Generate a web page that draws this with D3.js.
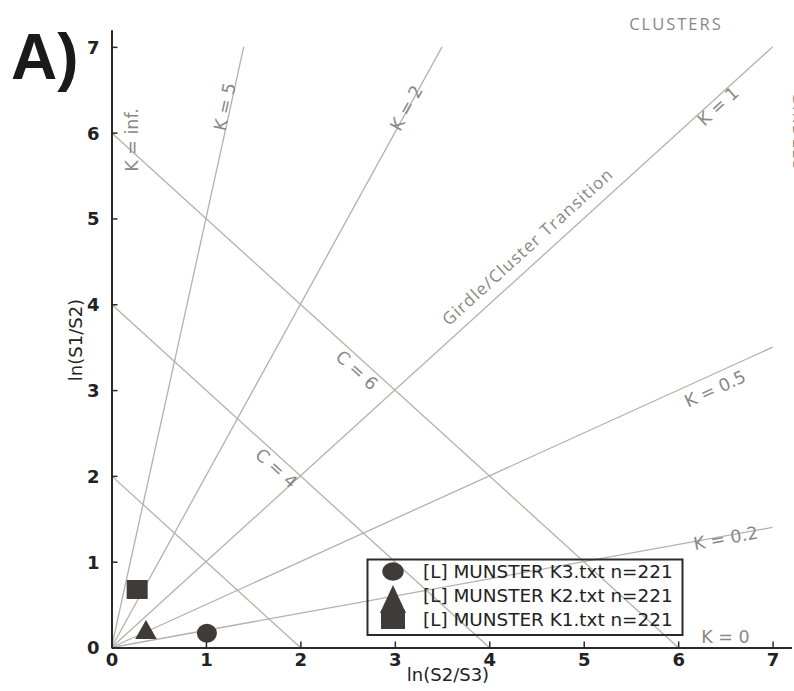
<!DOCTYPE html>
<html><head><meta charset="utf-8">
<script src="https://cdn.jsdelivr.net/npm/d3@7"></script>
<style>body{margin:0;background:#fff}svg{display:block}</style>
</head><body>
<script>
// ---- data ----
const xTicks = [0, 1, 2, 3, 4, 5, 6, 7];
const yTicks = [0, 1, 2, 3, 4, 5, 6, 7];
const kValues = [5, 2, 1, 0.5, 0.2];
const cValues = [2, 4, 6];
const seriesNames = ["[L] MUNSTER K3.txt n=221", "[L] MUNSTER K2.txt n=221", "[L] MUNSTER K1.txt n=221"];
const seriesShapes = ["circle", "triangle", "square"];
const seriesX = [1.01, 0.365, 0.272];
const seriesY = [0.165, 0.21, 0.676];
const xLabel = "ln(S2/S3)";
const yLabel = "ln(S1/S2)";

const W = 794, H = 691;
const svg = d3.select("body").append("svg").attr("width", W).attr("height", H);
const x = d3.scaleLinear().domain([0, 7.2]).range([111.5, 791.5]);
const y = d3.scaleLinear().domain([0, 7.2]).range([647.5, 29.7]);

const gridColor = "#b4b0ac", annColor = "#8a8784", ink = "#2a2a2a", markColor = "#3f3b38";

// K lines
const kEnd = k => k >= 1 ? [7 / k, 7] : [7, 7 * k];
svg.append("g").selectAll("line").data(kValues).join("line")
  .attr("x1", x(0)).attr("y1", y(0))
  .attr("x2", k => x(kEnd(k)[0])).attr("y2", k => y(kEnd(k)[1]))
  .attr("stroke", gridColor).attr("stroke-width", 1.3);
// C lines
svg.append("g").selectAll("line").data(cValues).join("line")
  .attr("x1", x(0)).attr("y1", c => y(c))
  .attr("x2", c => x(c)).attr("y2", y(0))
  .attr("stroke", gridColor).attr("stroke-width", 1.3);

// annotations
const kAngle = k => Math.atan2(y(k) - y(0), x(1) - x(0)) * 180 / Math.PI;
const cAngle = Math.atan2(y(0) - y(1), x(1) - x(0)) * 180 / Math.PI;
const annotations = [
  {t: "K = 5", px: x(6.288 / 5), py: y(6.288), a: kAngle(5), off: -6},
  {t: "K = 2", px: x(3.138), py: y(6.276), a: kAngle(2), off: -2},
  {t: "K = 1", px: x(6.37), py: y(6.37), a: kAngle(1), off: 7},
  {t: "K = 0.5", px: x(6.329), py: y(6.329 * 0.5), a: kAngle(0.5), off: 13.9},
  {t: "K = 0.2", px: x(6.5), py: y(6.5 * 0.2), a: kAngle(0.2), off: 2},
  {t: "K = inf.", px: x(0), py: y(5.915), a: -90, off: 20.5},
  {t: "K = 0", px: x(6.5), py: y(0), a: 0, off: -11},
  {t: "C = 6", px: x(2.675), py: y(6 - 2.675), a: cAngle, off: 10.6},
  {t: "C = 4", px: x(1.82), py: y(4 - 1.82), a: cAngle, off: 10.2}
];
const ag = svg.append("g");
annotations.forEach(d => {
  ag.append("text")
    .attr("transform", `translate(${d.px},${d.py}) rotate(${d.a})`)
    .attr("x", 0).attr("y", d.off).attr("dy", "0.36em")
    .attr("text-anchor", "middle")
    .attr("font-family", "DejaVu Sans").attr("font-size", 17.5)
    .attr("fill", annColor).text(d.t);
});
ag.append("text")
  .attr("transform", `translate(${x(4.526)},${y(4.526)}) rotate(${kAngle(1)})`)
  .attr("x", 0).attr("y", -17).attr("dy", "0.36em").attr("text-anchor", "middle")
  .attr("font-family", "Open Sans").attr("font-size", 17).attr("letter-spacing", 1.2)
  .attr("fill", annColor).text("Girdle/Cluster Transition");
ag.append("text").attr("x", 676).attr("y", 30).attr("text-anchor", "middle")
  .attr("font-family", "Open Sans").attr("font-size", 16.5).attr("letter-spacing", 2)
  .attr("fill", annColor).text("CLUSTERS");
ag.append("text").attr("transform", "translate(792.5,92) rotate(90)")
  .attr("font-family", "Open Sans").attr("font-size", 16.5).attr("letter-spacing", 2)
  .attr("fill", annColor).text("GIRDLES");

// axes
const xAxis = d3.axisBottom(x).tickValues(xTicks).tickSizeInner(-6).tickSizeOuter(0).tickPadding(8).tickFormat(d3.format("d"));
const yAxis = d3.axisLeft(y).tickValues(yTicks).tickSizeInner(-6).tickSizeOuter(0).tickPadding(12).tickFormat(d3.format("d"));
const gx = svg.append("g").attr("transform", `translate(0,${y(0)})`).call(xAxis);
const gy = svg.append("g").attr("transform", `translate(${x(0)},0)`).call(yAxis);
[gx, gy].forEach(g => {
  g.select(".domain").attr("stroke", ink).attr("stroke-width", 2);
  g.selectAll(".tick line").attr("stroke", ink).attr("stroke-width", 1.5);
  g.selectAll(".tick text").attr("font-family", "DejaVu Sans").attr("font-size", 18)
    .attr("font-weight", "bold").attr("fill", "#222");
});
gx.selectAll(".tick text").attr("dy", "0.6em");
gy.selectAll(".tick text").attr("dy", "0.36em");

svg.append("text").attr("x", 448).attr("y", 681).attr("text-anchor", "middle")
  .attr("font-family", "DejaVu Sans").attr("font-size", 18).attr("fill", "#222").text(xLabel);
svg.append("text").attr("transform", `translate(82,340) rotate(-90)`).attr("text-anchor", "middle")
  .attr("font-family", "DejaVu Sans").attr("font-size", 18).attr("fill", "#222").text(yLabel);

// markers
function drawMarker(g, shape, cx, cy, s) {
  if (shape === "circle") {
    g.append("ellipse").attr("cx", cx).attr("cy", cy).attr("rx", s.rx).attr("ry", s.ry).attr("fill", markColor);
  } else if (shape === "triangle") {
    g.append("path").attr("d", `M${cx},${cy - s.th / 2}L${cx + s.tw},${cy + s.th / 2}L${cx - s.tw},${cy + s.th / 2}Z`).attr("fill", markColor);
  } else {
    g.append("rect").attr("x", cx - s.sw / 2).attr("y", cy - s.sh / 2).attr("width", s.sw).attr("height", s.sh).attr("fill", markColor);
  }
}
const mg = svg.append("g");
const plotSize = {rx: 10, ry: 9.5, tw: 10.8, th: 19, sw: 21, sh: 19};
seriesShapes.forEach((sh, i) => drawMarker(mg, sh, x(seriesX[i]), y(seriesY[i]), plotSize));

// legend
const lg = svg.append("g");
lg.append("rect").attr("x", 367.5).attr("y", 559.5).attr("width", 315).attr("height", 75.5)
  .attr("fill", "none").attr("stroke", ink).attr("stroke-width", 2);
const legBase = [578, 602, 625.5];
const legSize = {rx: 10.8, ry: 9.2, tw: 13, th: 28, sw: 24, sh: 19};
const legDy = {circle: -6.5, triangle: -3, square: -6};
seriesShapes.forEach((sh, i) => {
  drawMarker(lg, sh, 393, legBase[i] + legDy[sh], legSize);
  lg.append("text").attr("x", 423).attr("y", legBase[i])
    .attr("font-family", "DejaVu Sans").attr("font-size", 18.4).attr("fill", "#222").text(seriesNames[i]);
});

// panel label
svg.append("text").attr("x", 11).attr("y", 79)
  .attr("font-family", "Liberation Sans").attr("font-weight", "bold").attr("font-size", 64)
  .attr("fill", "#1a1a1a").text("A)");
</script>
</body></html>
